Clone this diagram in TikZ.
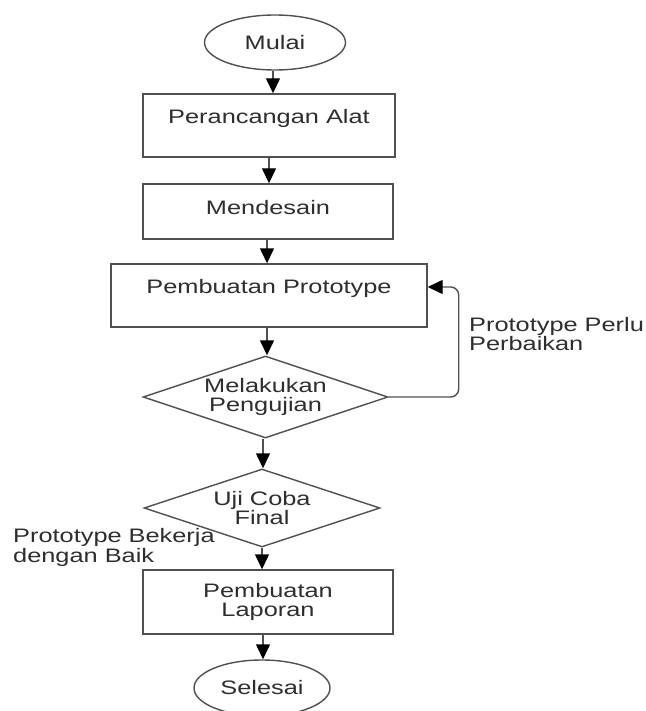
\documentclass[tikz,border=0pt]{standalone}
\usepackage{fontspec}
\setmainfont{Liberation Sans}[FakeStretch=1.3]
\usetikzlibrary{shapes.geometric,arrows.meta}
\definecolor{txt}{HTML}{2E2E2E}
\definecolor{ln}{HTML}{505050}
\begin{document}
\begin{tikzpicture}[x=1pt,y=-1pt,
  base/.style={draw=ln,line width=1.4pt,text=txt,inner sep=0pt,align=center,
    font=\fontsize{19.5}{19}\selectfont},
  procbox/.style={base,rectangle},
  termnode/.style={base,ellipse},
  decnode/.style={base,diamond,aspect=3},
  lbl/.style={text=txt,inner sep=0pt,align=left,font=\fontsize{19.5}{18}\selectfont},
  flow/.style={draw=ln,line width=1.4pt,-{Triangle[length=15pt,width=14pt,fill=black,color=black]}}
]
\useasboundingbox (0,0) rectangle (645,711);
\fill[white] (0,0) rectangle (645,711);

\node[termnode,minimum width=141pt,minimum height=55pt] (mulai) at (275,42.5) {Mulai};
\node[procbox,minimum width=252pt,minimum height=63pt] (alat) at (269,125.5) {Perancangan Alat\\~};
\node[procbox,minimum width=250pt,minimum height=55pt] (desain) at (268,211.5) {Mendesain\\[-10pt]~};
\node[procbox,minimum width=316pt,minimum height=63pt] (proto) at (269,295.5) {Pembuatan Prototype\\~};
\node[decnode,minimum width=245pt,minimum height=82pt] (uji) at (265.5,397) {Melakukan\\Pengujian};
\node[decnode,minimum width=236pt,minimum height=78pt] (final) at (262,508) {Uji Coba\\Final};
\node[procbox,minimum width=250pt,minimum height=64pt] (lapor) at (268,602) {Pembuatan\\Laporan};
\node[termnode,minimum width=136pt,minimum height=56pt] (selesai) at (262,688) {Selesai};

\node[lbl,anchor=west] (perlu) at (469,334) {Prototype Perlu\\Perbaikan};
\node[lbl,anchor=west] (baik) at (13,547.5) {Prototype Bekerja\\dengan Baik};

\draw[flow] ([xshift=-2pt]mulai.south) -- ([xshift=-2pt]mulai.south |- alat.north);
\draw[flow] (alat.south) -- (alat.south |- desain.north);
\draw[flow] ([xshift=-1pt]desain.south) -- ([xshift=-1pt]desain.south |- proto.north);
\draw[flow] ([xshift=-2pt]proto.south) -- ([xshift=-2pt]proto.south |- uji.north);
\draw[flow] ([xshift=-2.5pt]uji.south) -- ([xshift=-2.5pt]uji.south |- final.north);
\draw[flow] (final.south) -- (final.south |- lapor.north);
\draw[flow] ([xshift=-5pt]lapor.south) -- ([xshift=-5pt]lapor.south |- selesai.north);
\draw[flow,rounded corners=8pt] (uji.east) -- ++(70,0) |- ([yshift=8.5pt]proto.east);
\end{tikzpicture}
\end{document}
